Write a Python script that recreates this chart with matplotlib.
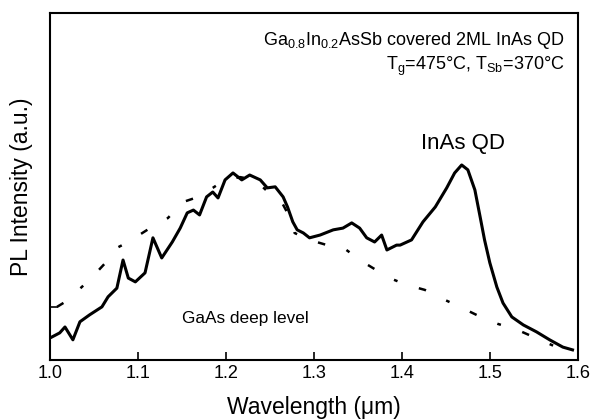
import matplotlib.pyplot as plt

plt.rcParams['font.family'] = ['Liberation Sans', 'DejaVu Sans']
plt.rcParams['mathtext.fontset'] = 'custom'
plt.rcParams['mathtext.rm'] = 'Liberation Sans'
plt.rcParams['mathtext.it'] = 'Liberation Sans'

# solid curve: Ga0.8In0.2AsSb covered InAs QD
wl_qd = [1.002, 1.011, 1.017, 1.026, 1.034, 1.045, 1.059, 1.066, 1.076, 1.083,
         1.089, 1.097, 1.108, 1.117, 1.127, 1.139, 1.148, 1.156, 1.163, 1.170,
         1.178, 1.185, 1.191, 1.199, 1.208, 1.218, 1.227, 1.239, 1.247, 1.256,
         1.265, 1.270, 1.276, 1.281, 1.288, 1.295, 1.307, 1.322, 1.333, 1.343,
         1.352, 1.360, 1.369, 1.377, 1.383, 1.394, 1.398, 1.411, 1.424, 1.438,
         1.451, 1.460, 1.468, 1.475, 1.483, 1.489, 1.494, 1.500, 1.508, 1.515,
         1.525, 1.538, 1.553, 1.568, 1.583, 1.594]
pl_qd = [6.6, 7.8, 9.5, 5.8, 11.0, 13.0, 15.3, 18.2, 20.7, 28.8,
         23.6, 22.5, 25.1, 35.2, 29.4, 34.0, 38.0, 42.4, 43.2, 41.8,
         47.0, 48.4, 46.7, 51.9, 53.9, 51.9, 53.3, 51.9, 49.6, 49.9,
         47.0, 44.1, 39.8, 37.5, 36.6, 35.2, 36.0, 37.5, 38.0, 39.5,
         38.0, 35.2, 34.0, 36.0, 31.7, 33.1, 33.1, 34.6, 39.8, 44.1,
         49.6, 53.9, 56.2, 54.8, 49.0, 41.2, 34.6, 28.0, 21.0, 16.4,
         12.4, 10.1, 8.1, 5.8, 3.7, 2.9]

# dash-dot curve: reference
wl_ref = [1.008, 1.017, 1.036, 1.048, 1.066, 1.076, 1.089, 1.105, 1.123, 1.134,
          1.151, 1.165, 1.185, 1.199, 1.216, 1.233, 1.248, 1.264, 1.273, 1.278,
          1.295, 1.315, 1.332, 1.356, 1.369, 1.386, 1.406, 1.426, 1.449, 1.466,
          1.492, 1.509, 1.532, 1.557, 1.583, 1.594]
pl_ref = [15.3, 16.7, 21.0, 23.9, 28.8, 32.3, 34.0, 36.6, 39.5, 40.9,
          45.5, 46.7, 49.6, 51.9, 52.7, 51.9, 48.4, 45.2, 40.9, 36.6,
          34.6, 33.1, 32.6, 28.2, 26.2, 23.6, 21.6, 20.2, 17.3, 15.3,
          12.1, 10.4, 8.6, 5.8, 2.9, 2.3]

xticks = [1.0, 1.1, 1.2, 1.3, 1.4, 1.5, 1.6]

fig = plt.figure(figsize=(5.92, 4.2), dpi=100)
ax = fig.add_axes([0.0845, 0.143, 0.8915, 0.826])

ax.plot(wl_ref, pl_ref, color='black', lw=1.8, linestyle=(0, (3, 9, 1.5, 9)))
ax.plot(wl_qd, pl_qd, color='black', lw=2.2)

ax.set_xlim(1.0, 1.6)
ax.set_ylim(0, 100)
ax.set_xticks(xticks)
ax.set_xticklabels([f'{t:.1f}' for t in xticks], fontsize=13)
ax.set_yticks([15.3])
ax.set_yticklabels([])
ax.tick_params(direction='in', length=6, width=1.2, pad=4)
for s in ax.spines.values():
    s.set_linewidth(1.5)

ax.set_xlabel('Wavelength (\u03bcm)', fontsize=16.5, labelpad=10)
ax.set_ylabel('PL Intensity (a.u.)', fontsize=16.5, labelpad=8.5)

ax.text(0.975, 0.92, r'Ga$_{0.8}$In$_{0.2}$AsSb covered 2ML InAs QD',
        transform=ax.transAxes, ha='right', va='center', fontsize=13)
ax.text(0.975, 0.845, r'T$_{g}$=475°C, T$_{Sb}$=370°C',
        transform=ax.transAxes, ha='right', va='center', fontsize=13)
ax.text(1.469, 62.5, 'InAs QD', ha='center', va='center', fontsize=16)
ax.text(1.150, 12.0, 'GaAs deep level', ha='left', va='center', fontsize=12.4)

fig.savefig('out.png', dpi=100)
